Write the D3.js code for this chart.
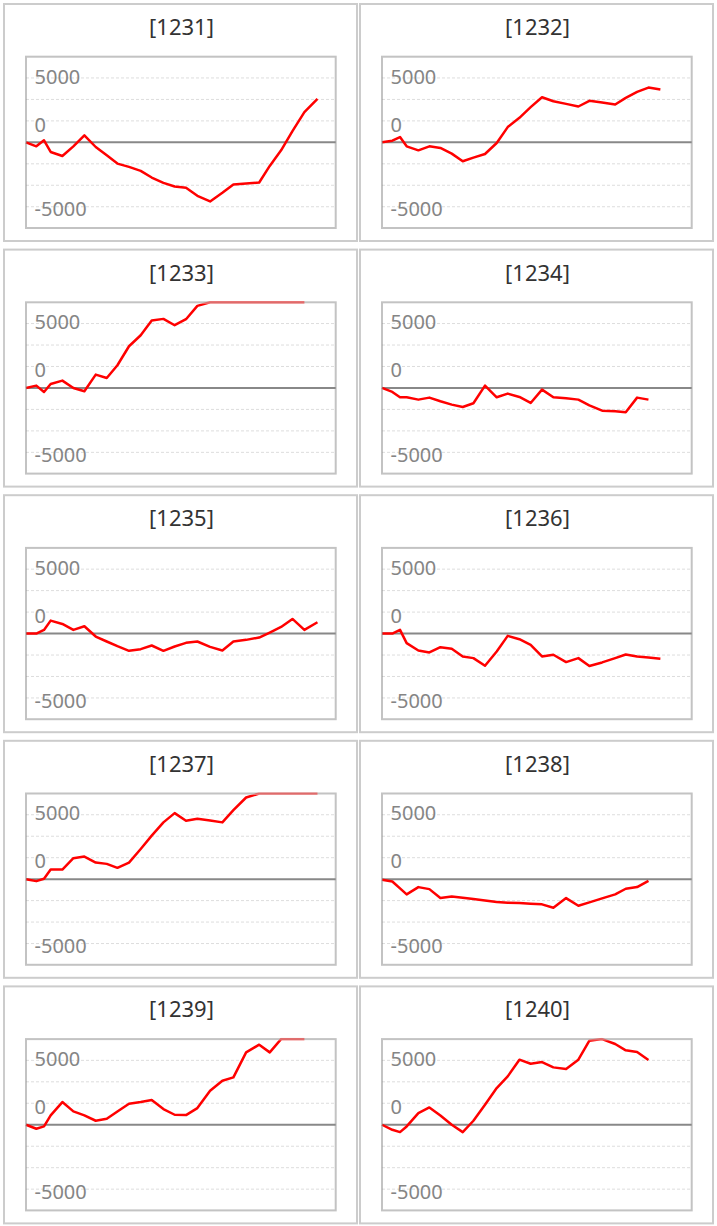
<!DOCTYPE html>
<html><head><meta charset="utf-8">
<script src="https://cdn.jsdelivr.net/npm/d3@7"></script>
<style>body{margin:0;background:#fff}svg{display:block}</style>
</head><body>
<svg id="c" width="717" height="1226"></svg>
<script>
const machines = ["1231","1232","1233","1234","1235","1236","1237","1238","1239","1240"];
const xs = [0,0.9,1.57,2.15,3.17,4.13,5.09,6.08,7.04,7.97,8.98,10.0,10.96,11.98,12.96,13.95,14.94,16.05,17.12,18.08,19.19,20.33,21.25,22.24,23.23,24.27,25.41];
const s1231 = [0,-309,155,-747,-1057,-309,541,-361,-1005,-1649,-1907,-2216,-2732,-3144,-3427,-3530,-4149,-4587,-3917,-3273,-3195,-3118,-1830,-618,876,2345,3376];
const s1232 = [0,129,412,-309,-618,-309,-438,-876,-1469,-1185,-902,-52,1185,1907,2732,3505,3195,2989,2783,3221,3092,2938,3453,3917,4252,4098];
const s1233 = [0,181,-311,311,570,0,-259,1036,777,1762,3238,4093,5233,5363,4870,5337,6373,6658,6900,7100,7300,7500,7600,7800,7900,8000];
const s1234 = [0,-311,-725,-725,-907,-751,-1036,-1295,-1476,-1191,181,-725,-440,-699,-1166,-130,-725,-803,-907,-1347,-1761,-1813,-1891,-751,-907];
const s1235 = [0,0,283,1005,747,283,567,-232,-618,-979,-1340,-1211,-928,-1340,-1005,-722,-618,-1031,-1314,-618,-490,-309,77,515,1134,283,876];
const s1236 = [0,0,283,-747,-1314,-1469,-1057,-1186,-1778,-1907,-2500,-1391,-180,-438,-876,-1778,-1649,-2216,-1907,-2525,-2242,-1907,-1624,-1778,-1855,-1958];
const s1237 = [0,-155,26,747,747,1623,1752,1288,1186,876,1288,2345,3376,4407,5128,4536,4690,4561,4407,5361,6340,6700,7100,7400,7600,7900,8100];
const s1238 = [-52,-180,-722,-1185,-618,-773,-1469,-1340,-1443,-1546,-1649,-1778,-1830,-1855,-1907,-1958,-2216,-1469,-2061,-1804,-1494,-1185,-747,-618,-129];
const s1239 = [0,-311,-130,725,1762,1036,725,311,466,1036,1632,1762,1917,1217,777,751,1295,2642,3419,3678,5620,6216,5620,6700,7100,7300];
const s1240 = [0,-389,-570,-130,907,1347,725,0,-570,311,1554,2849,3756,5051,4740,4869,4455,4326,5051,6527,6682,6268,5776,5646,5025];
const seriesList = [s1231,s1232,s1233,s1234,s1235,s1236,s1237,s1238,s1239,s1240];
const gridValues = [5000,3333,1667,-1667,-3333,-5000];
const tickLabels = ["5000","0","-5000"];
const tickAt = [5120,1400,-5190];
const xDomain = [0,27];
const yDomain = [-6650,6650];

const svg = d3.select("#c");
const panelW = 353, panelH = 237, colStep = 356, rowStep = 245.6;
const plot = {l:22, r:331.7, t:52.7, b:224};
const x = d3.scaleLinear().domain(xDomain).range([plot.l, plot.r]);
const y = d3.scaleLinear().domain(yDomain).range([plot.b, plot.t]).clamp(true);

const defs = svg.append("defs");
defs.append("clipPath").attr("id","clipMain").append("rect")
  .attr("x",plot.l-3).attr("y",plot.t+1.25).attr("width",plot.r-plot.l+6).attr("height",plot.b-plot.t);
defs.append("clipPath").attr("id","clipTop").append("rect")
  .attr("x",plot.l-3).attr("y",plot.t-1.3).attr("width",plot.r-plot.l+6).attr("height",2.55);

machines.forEach((m,i)=>{
  const c = i%2, r = Math.floor(i/2);
  const g = svg.append("g").attr("transform",`translate(${4+c*colStep},${4+r*rowStep})`);
  g.append("rect").attr("x",0).attr("y",0).attr("width",panelW).attr("height",panelH)
    .attr("fill","#fff").attr("stroke","#cccccc").attr("stroke-width",2);
  g.append("text").attr("x",panelW/2+1).attr("y",31)
    .attr("text-anchor","middle").attr("font-family","Noto Sans").attr("font-size",22)
    .attr("fill","#333").text(`[${m}]`);
  g.selectAll("line.grid").data(gridValues).enter().append("line")
    .attr("x1",plot.l).attr("x2",plot.r).attr("y1",d=>y(d)).attr("y2",d=>y(d))
    .attr("stroke","#dddddd").attr("stroke-width",1).attr("stroke-dasharray","3,2");
  g.selectAll("text.tl").data(tickLabels).enter().append("text")
    .attr("x",plot.l+8.5).attr("y",(d,k)=>y(tickAt[k])).attr("dy","0.36em")
    .attr("font-family","Noto Sans").attr("font-size",20).attr("fill","#858585").text(d=>d);
  g.append("line").attr("x1",plot.l).attr("x2",plot.r).attr("y1",y(0)).attr("y2",y(0))
    .attr("stroke","#888").attr("stroke-width",2);
  const data = seriesList[i].map((v,k)=>[xs[k],v]);
  const lineGen = d3.line().x(d=>x(d[0])).y(d=>y(d[1]));
  g.append("path").datum(data).attr("d",lineGen).attr("clip-path","url(#clipMain)")
    .attr("fill","none").attr("stroke","#ff0000").attr("stroke-width",2.5).attr("stroke-linejoin","round");
  g.append("rect").attr("x",plot.l).attr("y",plot.t).attr("width",plot.r-plot.l).attr("height",plot.b-plot.t)
    .attr("fill","none").attr("stroke","#888").attr("stroke-opacity",0.5).attr("stroke-width",2);
  g.append("path").datum(data).attr("d",lineGen).attr("clip-path","url(#clipTop)")
    .attr("fill","none").attr("stroke","#ff0000").attr("stroke-opacity",0.45).attr("stroke-width",2.5).attr("stroke-linejoin","round");
});
</script>
</body></html>
